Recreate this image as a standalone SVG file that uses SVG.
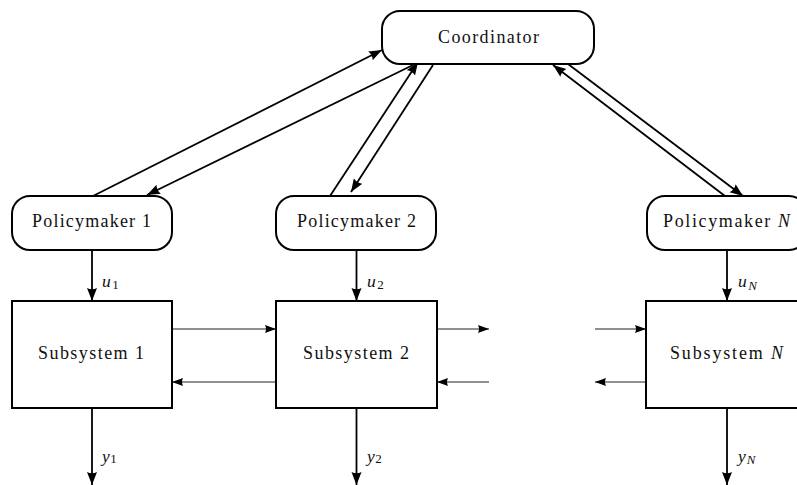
<svg xmlns="http://www.w3.org/2000/svg" width="797" height="485" viewBox="0 0 797 485">
<style>
  .box { fill: #fff; stroke: #000; stroke-width: 2; }
  text { font-family: 'Liberation Serif', 'DejaVu Serif', serif; fill: #111; }
  .lbl { font-size: 18px; }
  .math { font-style: italic; font-size: 17.5px; }
  .sub { font-size: 13px; font-style: normal; }
  .subi { font-size: 13px; font-style: italic; }
  .thick { stroke: #000; stroke-width: 1.8; fill: none; marker-end: url(#ah); }
  .thin { stroke: #222; stroke-width: 1.1; fill: none; marker-end: url(#ahs); }
</style>
<defs>
  <marker id="ah" markerUnits="userSpaceOnUse" markerWidth="14" markerHeight="11" refX="13" refY="5" orient="auto">
    <path d="M0,0 L13,5 L0,10 Q2.5,5 0,0 z" fill="#000"/>
  </marker>
  <marker id="ahs" markerUnits="userSpaceOnUse" markerWidth="12" markerHeight="9" refX="11" refY="4" orient="auto">
    <path d="M0,0 L11,4 L0,8 Q2,4 0,0 z" fill="#000"/>
  </marker>
</defs>

<g id="connectors">
  <line class="thick" x1="93" y1="196" x2="382" y2="50"/>
  <line class="thick" x1="413" y1="65" x2="147" y2="195"/>
  <line class="thick" x1="330" y1="196" x2="418" y2="62"/>
  <line class="thick" x1="433" y1="65" x2="351" y2="192"/>
  <line class="thick" x1="568" y1="64" x2="743" y2="196"/>
  <line class="thick" x1="725" y1="196" x2="553" y2="65"/>
  <line class="thick" x1="92" y1="250" x2="92" y2="301"/>
  <line class="thick" x1="356.5" y1="250" x2="356.5" y2="301"/>
  <line class="thick" x1="727" y1="250" x2="727" y2="301"/>
  <line class="thick" x1="92" y1="408" x2="92" y2="485"/>
  <line class="thick" x1="356.5" y1="408" x2="356.5" y2="485"/>
  <line class="thick" x1="727" y1="408" x2="727" y2="485"/>
  <line class="thin" x1="172" y1="329" x2="276" y2="329"/>
  <line class="thin" x1="276" y1="382" x2="172" y2="382"/>
  <line class="thin" x1="437" y1="329" x2="489" y2="329"/>
  <line class="thin" x1="489" y1="382" x2="437" y2="382"/>
  <line class="thin" x1="595" y1="329" x2="646" y2="329"/>
  <line class="thin" x1="646" y1="382" x2="595" y2="382"/>
  <text class="math" x="102" y="287">u<tspan class="sub" dx="1.5" dy="2">1</tspan></text>
  <text class="math" x="367" y="287">u<tspan class="sub" dx="1.5" dy="2">2</tspan></text>
  <text class="math" x="738" y="287">u<tspan class="subi" dx="1.5" dy="3">N</tspan></text>
  <text class="math" x="102" y="462">y<tspan class="sub" dx="0.5" dy="1">1</tspan></text>
  <text class="math" x="367" y="462">y<tspan class="sub" dx="0.5" dy="1">2</tspan></text>
  <text class="math" x="738" y="462">y<tspan class="subi" dx="1" dy="2">N</tspan></text>
</g>

<g id="coordinator">
  <rect class="box" x="382" y="11" width="212" height="53" rx="18" ry="18"/>
  <text class="lbl" x="438" y="43" textLength="101" lengthAdjust="spacing">Coordinator</text>
</g>

<g id="policymaker1">
  <rect class="box" x="12" y="196" width="160" height="54" rx="18" ry="18"/>
  <text class="lbl" x="32" y="227" textLength="119" lengthAdjust="spacing">Policymaker 1</text>
</g>
<g id="policymaker2">
  <rect class="box" x="276" y="196" width="160" height="54" rx="18" ry="18"/>
  <text class="lbl" x="297" y="227" textLength="119" lengthAdjust="spacing">Policymaker 2</text>
</g>
<g id="policymakerN">
  <rect class="box" x="647" y="196" width="160" height="54" rx="18" ry="18"/>
  <text class="lbl" x="663" y="227" textLength="127" lengthAdjust="spacing">Policymaker <tspan font-style="italic">N</tspan></text>
</g>

<g id="subsystem1">
  <rect class="box" x="12" y="301" width="160" height="107"/>
  <text class="lbl" x="38" y="359" textLength="106" lengthAdjust="spacing">Subsystem 1</text>
</g>
<g id="subsystem2">
  <rect class="box" x="276" y="301" width="161" height="107"/>
  <text class="lbl" x="303" y="359" textLength="106" lengthAdjust="spacing">Subsystem 2</text>
</g>
<g id="subsystemN">
  <rect class="box" x="646" y="301" width="161" height="107"/>
  <text class="lbl" x="670" y="359" textLength="113" lengthAdjust="spacing">Subsystem <tspan font-style="italic">N</tspan></text>
</g>
</svg>
